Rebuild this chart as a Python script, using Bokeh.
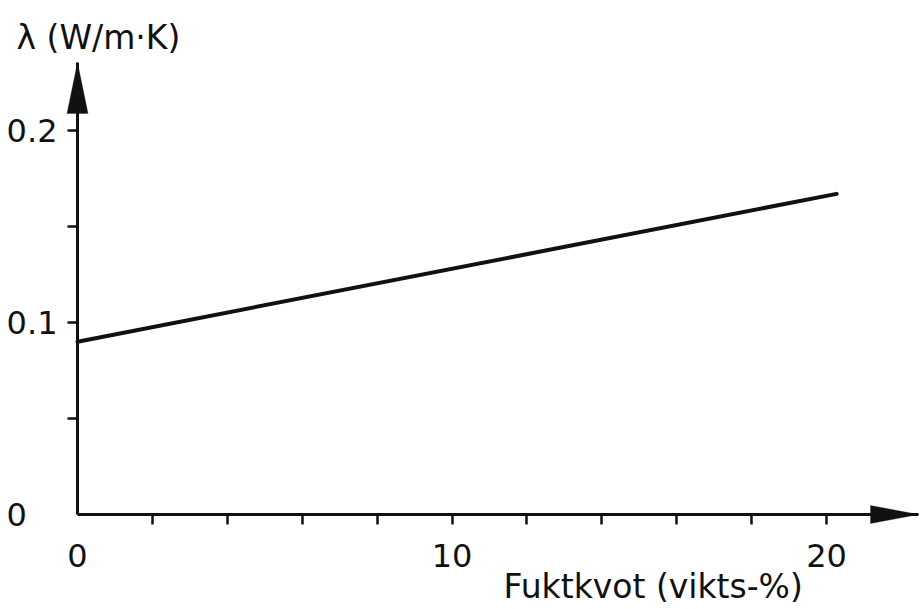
from bokeh.plotting import figure
from bokeh.models import FixedTicker, Label, PolyAnnotation, Range1d
from bokeh.embed import file_html
from bokeh.resources import INLINE

# ---- data ----
moisture = [0.0, 20.27]           # Fuktkvot (vikts-%)
conductivity = [0.090, 0.167]     # lambda (W/m.K)
x_major = [0, 10, 20]
x_minor = [2, 4, 6, 8, 10, 12, 14, 16, 18, 20]
y_major = [0, 0.1, 0.2]
y_minor = [0.05, 0.1, 0.15, 0.2]
x_title = "Fuktkvot (vikts-%)"
y_title = "λ (W/m·K)"

FONT = "DejaVu Sans"
INK = "#111111"
W, H = 920, 609
PX_X = 37.45     # pixels per x unit
PX_Y = 1920.0    # pixels per y unit
ORG_X, ORG_Y = 77, 514          # origin position on the canvas (from top-left)
X_START, X_END = -ORG_X / PX_X, (W - ORG_X) / PX_X
Y_START, Y_END = -(H - ORG_Y) / PX_Y, ORG_Y / PX_Y
X_TIP = (918 - ORG_X) / PX_X    # end of the x axis arrow
Y_TIP = (ORG_Y - 62) / PX_Y     # end of the y axis arrow

p = figure(width=W, height=H, output_backend="svg", toolbar_location=None,
           x_range=Range1d(X_START, X_END), y_range=Range1d(Y_START, Y_END))
p.min_border_left = 0
p.min_border_right = 0
p.min_border_top = 0
p.min_border_bottom = 0
p.outline_line_color = None
p.xgrid.visible = False
p.ygrid.visible = False
p.background_fill_color = "white"
p.border_fill_color = "white"

p.line(moisture, conductivity, line_width=4, line_color=INK, line_cap="round")

for ax in (p.xaxis[0], p.yaxis[0]):
    ax.fixed_location = 0
    ax.axis_line_width = 3
    ax.axis_line_color = INK
    ax.major_tick_out = 0
    ax.major_tick_in = 0
    ax.minor_tick_out = 10
    ax.minor_tick_in = 0
    ax.minor_tick_line_width = 2.5
    ax.minor_tick_line_color = INK
    ax.major_label_text_font = FONT
    ax.major_label_text_font_size = "32px"
    ax.major_label_text_color = INK

p.xaxis.bounds = (0, X_TIP)
p.yaxis.bounds = (0, Y_TIP)
p.xaxis.ticker = FixedTicker(ticks=x_major, minor_ticks=x_minor)
p.yaxis.ticker = FixedTicker(ticks=y_major, minor_ticks=y_minor)
p.xaxis.major_label_standoff = 19
p.yaxis.major_label_standoff = 10
p.yaxis.major_label_overrides = {0: "0\u2007\u2008"}

# arrow heads at the ends of the axes
hy_len, hy_half = 51 / PX_Y, 10.5 / PX_X
p.add_layout(PolyAnnotation(xs=[0, -hy_half, hy_half], ys=[Y_TIP, Y_TIP - hy_len, Y_TIP - hy_len],
                            fill_color=INK, fill_alpha=1, line_color=INK, line_width=1))
hx_len, hx_half = 48 / PX_X, 9 / PX_Y
p.add_layout(PolyAnnotation(xs=[X_TIP, X_TIP - hx_len, X_TIP - hx_len], ys=[0, -hx_half, hx_half],
                            fill_color=INK, fill_alpha=1, line_color=INK, line_width=1))

# axis titles (screen units, from the lower-left corner)
p.add_layout(Label(x=16, y=H - 37, x_units="screen", y_units="screen", text=y_title,
                   text_font=FONT, text_font_size="33px", text_color=INK,
                   text_baseline="alphabetic"))
p.add_layout(Label(x=503, y=H - 586, x_units="screen", y_units="screen", text=x_title,
                   text_font=FONT, text_font_size="33px", text_color=INK,
                   text_baseline="alphabetic"))

open("out.html", "w").write(file_html(p, INLINE))
